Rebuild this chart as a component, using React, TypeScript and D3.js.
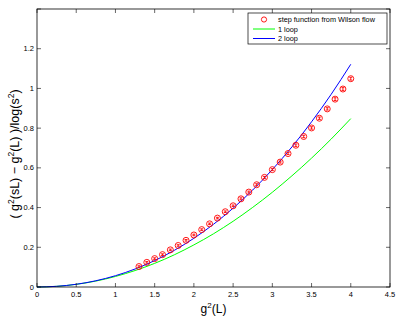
import { useMemo } from "react";
import * as d3 from "d3";

// data
const stepX = [
  1.3, 1.4, 1.5, 1.6, 1.7, 1.8, 1.9, 2.0, 2.1, 2.2, 2.3, 2.4, 2.5, 2.6,
  2.7, 2.8, 2.9, 3.0, 3.1, 3.2, 3.3, 3.4, 3.5, 3.6, 3.7, 3.8, 3.9, 4.0,
];
const stepY = [
  0.103, 0.124, 0.143, 0.163, 0.187, 0.209, 0.235, 0.262, 0.289, 0.318,
  0.347, 0.379, 0.409, 0.444, 0.478, 0.515, 0.552, 0.591, 0.629, 0.672,
  0.714, 0.758, 0.801, 0.85, 0.897, 0.946, 0.997, 1.049,
];
const stepErr = [
  0.004, 0.004, 0.004, 0.004, 0.004, 0.004, 0.004, 0.004, 0.004, 0.004,
  0.004, 0.004, 0.004, 0.005, 0.005, 0.005, 0.005, 0.005, 0.005, 0.005,
  0.006, 0.006, 0.006, 0.006, 0.006, 0.007, 0.007, 0.007,
];

const curveX = [
  0, 0.25, 0.5, 0.75, 1, 1.25, 1.5, 1.75, 2, 2.25, 2.5, 2.75, 3, 3.25, 3.5,
  3.75, 4,
];
const oneLoop = [
  0, 0.0033, 0.0133, 0.0298, 0.053, 0.0828, 0.119, 0.162, 0.212, 0.268,
  0.331, 0.401, 0.477, 0.56, 0.649, 0.745, 0.848,
];
const twoLoop = [
  0, 0.0034, 0.0137, 0.0314, 0.0569, 0.0906, 0.133, 0.1844, 0.2452, 0.3159,
  0.3969, 0.4885, 0.5913, 0.7055, 0.8318, 0.9703, 1.1216,
];

const xTicks = [0, 0.5, 1, 1.5, 2, 2.5, 3, 3.5, 4, 4.5];
const yTicks = [0, 0.2, 0.4, 0.6, 0.8, 1, 1.2, 1.4];
const yTickLabels = ["0", "0.2", "0.4", "0.6", "0.8", "1", "1.2", ""];

const W = 399;
const H = 318;
const FONT = "'Liberation Sans', Arial, Helvetica, sans-serif";

export default function App() {
  const m = { left: 37, right: 9, top: 9, bottom: 31 };

  const x = useMemo(
    () => d3.scaleLinear().domain([0, 4.5]).range([m.left, W - m.right]),
    [],
  );
  const y = useMemo(
    () => d3.scaleLinear().domain([0, 1.4]).range([H - m.bottom, m.top]),
    [],
  );

  const line = d3
    .line<number>()
    .x((_, i) => x(curveX[i]))
    .y((d) => y(d))
    .curve(d3.curveMonotoneX);

  const x0 = x(0);
  const x1 = x(4.5);
  const y0 = y(0);
  const y1 = y(1.4);
  const tick = 4;

  // legend
  const lg = { x: 248, y: 13, w: 139, h: 31 };

  return (
    <div style={{ position: "absolute", left: 0, top: 0 }}>
      <svg width={W} height={H} style={{ display: "block", background: "#fff" }}>
        <rect x={0} y={0} width={W} height={H} fill="#fff" />

        {/* curves */}
        <path d={line(oneLoop) ?? ""} fill="none" stroke="#00ff00" strokeWidth={1} />
        <path d={line(twoLoop) ?? ""} fill="none" stroke="#0000ff" strokeWidth={1} />

        {/* step function points */}
        {stepX.map((sx, i) => {
          const cx = x(sx);
          const cy = y(stepY[i]);
          const e1 = y(stepY[i] + stepErr[i]);
          const e2 = y(stepY[i] - stepErr[i]);
          return (
            <g key={i} stroke="#ff0000" strokeWidth={0.9} fill="none">
              <circle cx={cx} cy={cy} r={3} />
              <line x1={cx} x2={cx} y1={e1} y2={e2} />
              <line x1={cx - 1.5} x2={cx + 1.5} y1={e1} y2={e1} />
              <line x1={cx - 1.5} x2={cx + 1.5} y1={e2} y2={e2} />
            </g>
          );
        })}

        {/* axes box */}
        <rect
          x={x0}
          y={y1}
          width={x1 - x0}
          height={y0 - y1}
          fill="none"
          stroke="#000"
          strokeWidth={0.8}
        />
        {xTicks.map((t) => (
          <g key={"x" + t} stroke="#000" strokeWidth={0.6}>
            <line x1={x(t)} x2={x(t)} y1={y0} y2={y0 - tick} />
            <line x1={x(t)} x2={x(t)} y1={y1} y2={y1 + tick} />
          </g>
        ))}
        {yTicks.map((t) => (
          <g key={"y" + t} stroke="#000" strokeWidth={0.6}>
            <line x1={x0} x2={x0 + tick} y1={y(t)} y2={y(t)} />
            <line x1={x1} x2={x1 - tick} y1={y(t)} y2={y(t)} />
          </g>
        ))}
        {xTicks.map((t) => (
          <text
            key={"xl" + t}
            x={x(t)}
            y={y0 + 10}
            textAnchor="middle"
            fontFamily={FONT}
            fontSize={7.5}
            fill="#000"
          >
            {String(t)}
          </text>
        ))}
        {yTicks.map((t, i) => (
          <text
            key={"yl" + t}
            x={x0 - 3}
            y={y(t) + 2.6}
            textAnchor="end"
            fontFamily={FONT}
            fontSize={7.5}
            fill="#000"
          >
            {yTickLabels[i]}
          </text>
        ))}

        {/* axis labels */}
        <text
          x={(x0 + x1) / 2}
          y={313}
          textAnchor="middle"
          fontFamily={FONT}
          fontSize={12}
          fill="#000"
        >
          g<tspan dy={-5.5} fontSize={8}>2</tspan>
          <tspan dy={5.5}>(L)</tspan>
        </text>
        <text
          transform={`translate(19,154) rotate(-90)`}
          textAnchor="middle"
          fontFamily={FONT}
          fontSize={12.5}
          fill="#000"
        >
          ( g<tspan dy={-5.5} fontSize={8.5}>2</tspan>
          <tspan dy={5.5}>(sL) − g</tspan>
          <tspan dy={-5.5} fontSize={8.5}>2</tspan>
          <tspan dy={5.5}>(L) )/log(s</tspan>
          <tspan dy={-5.5} fontSize={8.5}>2</tspan>
          <tspan dy={5.5}>)</tspan>
        </text>

        {/* legend */}
        <rect
          x={lg.x}
          y={lg.y}
          width={lg.w}
          height={lg.h}
          fill="#fff"
          stroke="#000"
          strokeWidth={0.7}
        />
        <circle cx={264} cy={19.5} r={2.6} fill="none" stroke="#ff0000" strokeWidth={0.9} />
        <line x1={253} x2={275} y1={29} y2={29} stroke="#00ff00" strokeWidth={1} />
        <line x1={253} x2={275} y1={38.5} y2={38.5} stroke="#0000ff" strokeWidth={1} />
        {["step function from Wilson flow", "1 loop", "2 loop"].map((s, i) => (
          <text
            key={s}
            x={278}
            y={22 + i * 9.5}
            fontFamily={FONT}
            fontSize={7.3}
            fill="#000"
          >
            {s}
          </text>
        ))}
      </svg>
    </div>
  );
}
